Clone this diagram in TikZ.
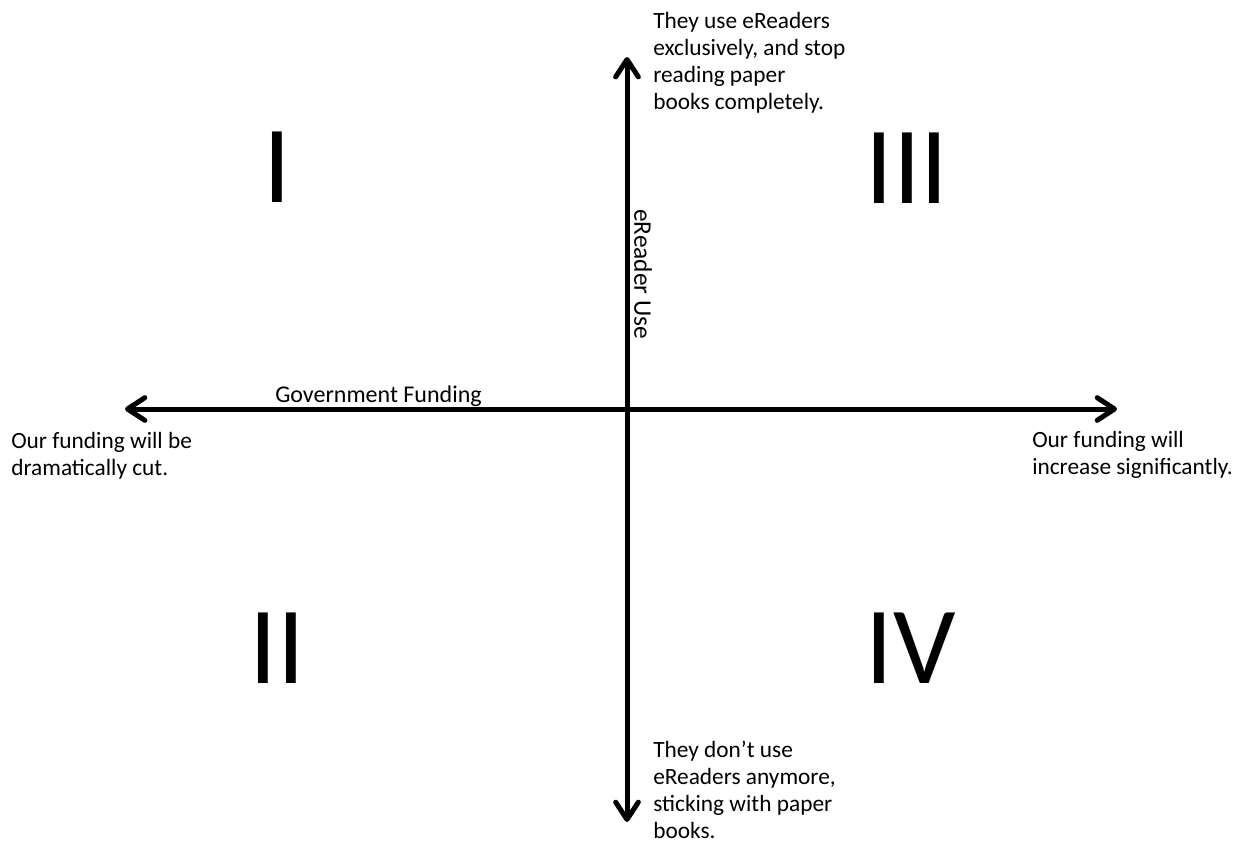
\documentclass[tikz,border=0pt]{standalone}
\usepackage{fontspec}
\setmainfont{Carlito}
\usetikzlibrary{arrows.meta}
\begin{document}
\begin{tikzpicture}[x=0.75pt,y=-0.75pt,
  axis/.style={line width=3.75pt,
    arrows={Straight Barb[length=13pt,width=17pt,line cap=round,line join=round]-Straight Barb[length=13pt,width=17pt,line cap=round,line join=round]}},
  lbl/.style={font=\fontsize{17.5pt}{20.25pt}\selectfont, align=left, inner sep=0pt, anchor=north west},
  numeral/.style={font=\fontsize{82.5pt}{90pt}\selectfont, inner sep=0pt, anchor=center}]
\useasboundingbox[fill=white] (0,0) rectangle (1235,844);
\coordinate (W) at (125,409);
\coordinate (E) at (1117,409);
\coordinate (N) at (627,57);
\coordinate (S) at (627,822);
\draw[axis] (W) -- (E);
\draw[axis] (S) -- (N);
\node[lbl] (top) at (653,12) {They use eReaders\\exclusively, and stop\\reading paper\\books completely.};
\node[lbl] (bot) at (653,741) {They don’t use\\eReaders anymore,\\sticking with paper\\books.};
\node[lbl] (left) at (11,432) {Our funding will be\\dramatically cut.};
\node[lbl] (right) at (1032,431) {Our funding will\\increase significantly.};
\node[font=\fontsize{18pt}{20pt}\selectfont, inner sep=0pt, anchor=base west] (gov) at (275,402) {Government Funding};
\node[font=\fontsize{19pt}{21pt}\selectfont, inner sep=0pt, rotate=-90] (use) at (643,274) {eReader Use};
\node[numeral] (q1) at (277.5,167.5) {I};
\node[numeral] (q3) at (907,168) {III};
\node[numeral] (q2) at (277.5,648.5) {II};
\node[numeral] (q4) at (911,648) {IV};
\end{tikzpicture}
\end{document}
